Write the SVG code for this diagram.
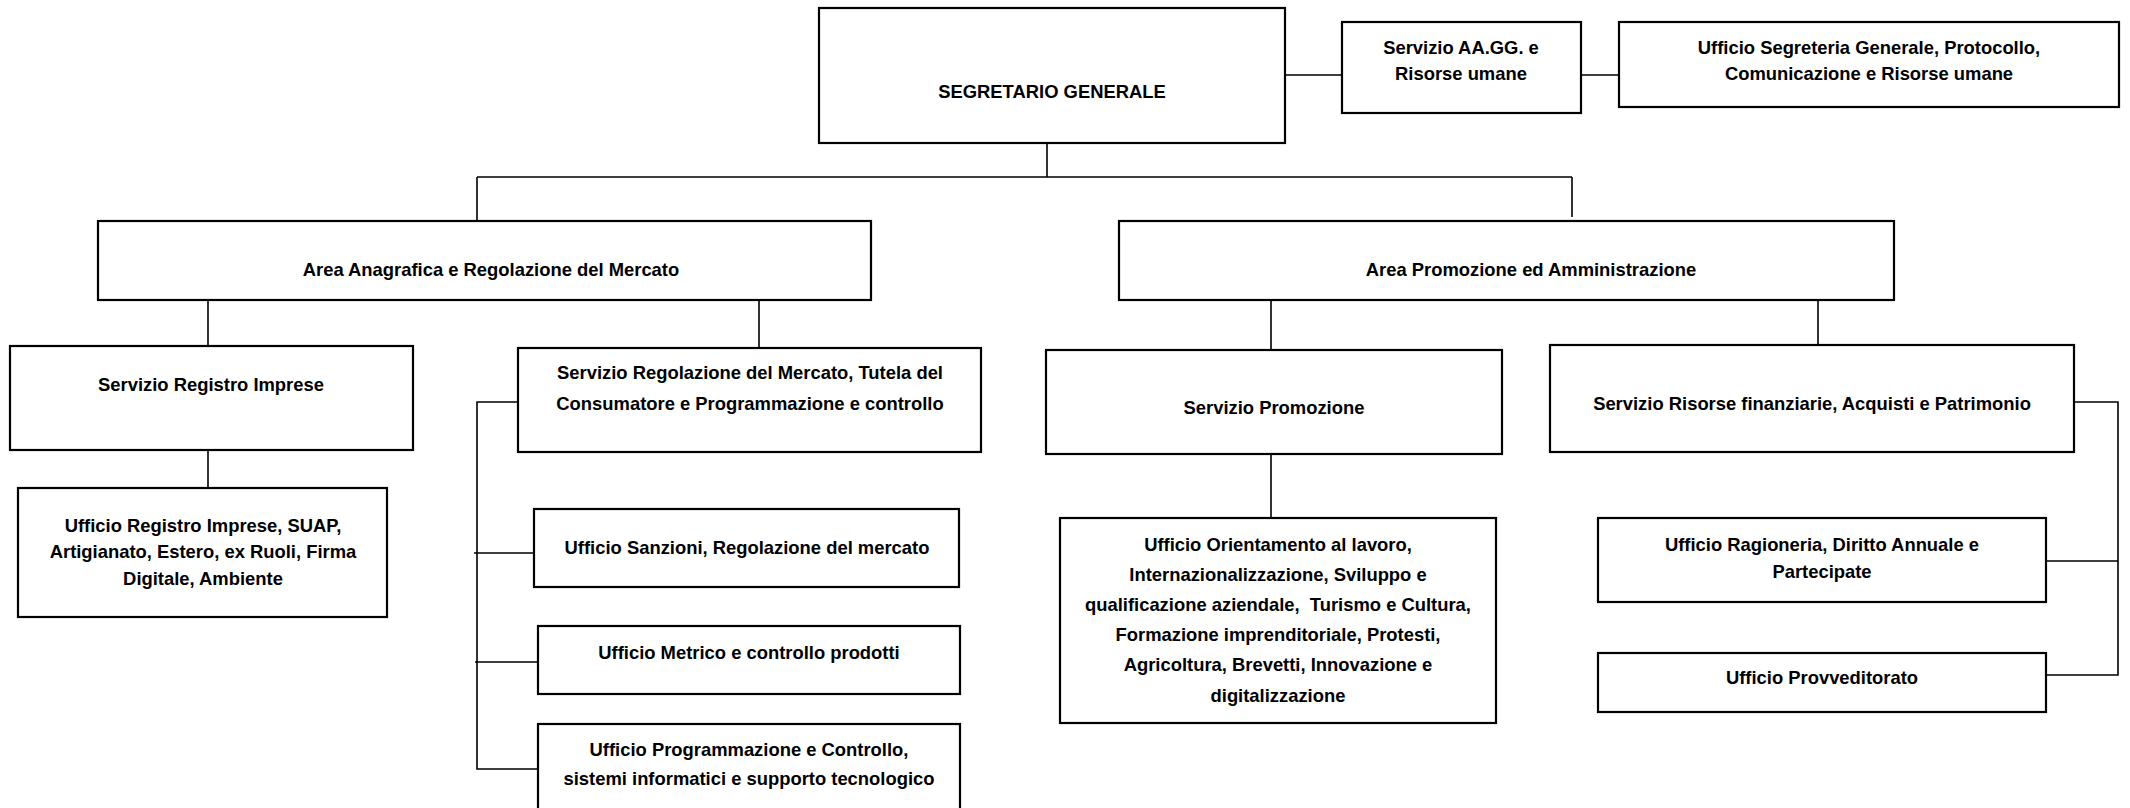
<svg xmlns="http://www.w3.org/2000/svg" width="2130" height="808" viewBox="0 0 2130 808">
<style>
.box{fill:#fff;stroke:#000;stroke-width:2.2}
.ln{fill:none;stroke:#000;stroke-width:1.6}
text{font-family:"Liberation Sans",Arial,sans-serif;font-weight:bold;font-size:18.4px;fill:#000;text-anchor:middle;dominant-baseline:middle}
</style>
<rect width="2130" height="808" fill="#fff"/>
<g id="connectors">
<path class="ln" d="M1286 75H1342M1581 75H1619"/>
<path class="ln" d="M1047 143V177M477 177H1572M477 177V221M1572 177V217"/>
<path class="ln" d="M208 300V346M759 300V348"/>
<path class="ln" d="M1271 300V350M1818 300V345"/>
<path class="ln" d="M208 450V488"/>
<path class="ln" d="M518 402H477V769H538M474 553H534M475 662H538"/>
<path class="ln" d="M1271 454V518"/>
<path class="ln" d="M2074 402H2118V675H2046M2046 561H2118"/>
</g>
<g id="segretario"><rect class="box" x="819" y="8" width="466" height="135"/><text x="1052" y="93">SEGRETARIO GENERALE</text></g>
<g id="aagg"><rect class="box" x="1342" y="22" width="239" height="91"/><text x="1461" y="49">Servizio AA.GG. e</text><text x="1461" y="75">Risorse umane</text></g>
<g id="uff-segreteria"><rect class="box" x="1619" y="22" width="500" height="85"/><text x="1869" y="49">Ufficio Segreteria Generale, Protocollo,</text><text x="1869" y="75">Comunicazione e Risorse umane</text></g>
<g id="area-anagrafica"><rect class="box" x="98" y="221" width="773" height="79"/><text x="491" y="271">Area Anagrafica e Regolazione del Mercato</text></g>
<g id="area-promozione"><rect class="box" x="1119" y="221" width="775" height="79"/><text x="1531" y="271">Area Promozione ed Amministrazione</text></g>
<g id="serv-registro"><rect class="box" x="10" y="346" width="403" height="104"/><text x="211" y="386">Servizio Registro Imprese</text></g>
<g id="serv-regolazione"><rect class="box" x="518" y="348" width="463" height="104"/><text x="750" y="374">Servizio Regolazione del Mercato, Tutela del</text><text x="750" y="405">Consumatore e Programmazione e controllo</text></g>
<g id="uff-registro"><rect class="box" x="18" y="488" width="369" height="129"/><text x="203" y="527">Ufficio Registro Imprese, SUAP,</text><text x="203" y="553">Artigianato, Estero, ex Ruoli, Firma</text><text x="203" y="580">Digitale, Ambiente</text></g>
<g id="uff-sanzioni"><rect class="box" x="534" y="509" width="425" height="78"/><text x="747" y="549">Ufficio Sanzioni, Regolazione del mercato</text></g>
<g id="uff-metrico"><rect class="box" x="538" y="626" width="422" height="68"/><text x="749" y="654">Ufficio Metrico e controllo prodotti</text></g>
<g id="uff-programmazione"><rect class="box" x="538" y="724" width="422" height="90"/><text x="749" y="751">Ufficio Programmazione e Controllo,</text><text x="749" y="780">sistemi informatici e supporto tecnologico</text></g>
<g id="serv-promozione"><rect class="box" x="1046" y="350" width="456" height="104"/><text x="1274" y="409">Servizio Promozione</text></g>
<g id="serv-risorse"><rect class="box" x="1550" y="345" width="524" height="107"/><text x="1812" y="405">Servizio Risorse finanziarie, Acquisti e Patrimonio</text></g>
<g id="uff-orientamento"><rect class="box" x="1060" y="518" width="436" height="205"/><text x="1278" y="546">Ufficio Orientamento al lavoro,</text><text x="1278" y="576">Internazionalizzazione, Sviluppo e</text><text x="1278" y="606">qualificazione aziendale, &#160;Turismo e Cultura,</text><text x="1278" y="636">Formazione imprenditoriale, Protesti,</text><text x="1278" y="666">Agricoltura, Brevetti, Innovazione e</text><text x="1278" y="697">digitalizzazione</text></g>
<g id="uff-ragioneria"><rect class="box" x="1598" y="518" width="448" height="84"/><text x="1822" y="546">Ufficio Ragioneria, Diritto Annuale e</text><text x="1822" y="573">Partecipate</text></g>
<g id="uff-provveditorato"><rect class="box" x="1598" y="653" width="448" height="59"/><text x="1822" y="679">Ufficio Provveditorato</text></g>
</svg>
